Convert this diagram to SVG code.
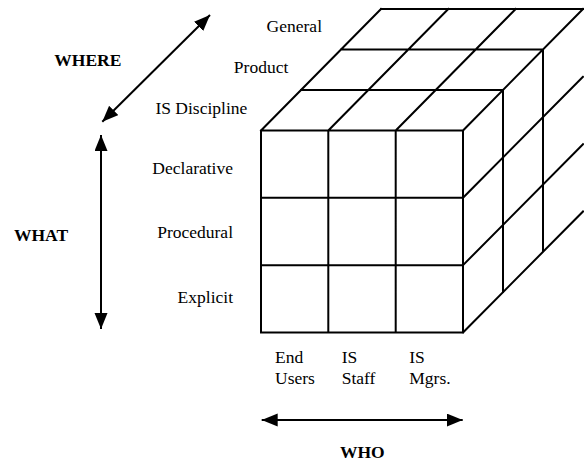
<svg xmlns="http://www.w3.org/2000/svg" width="584" height="462" viewBox="0 0 584 462">
<style>
.g{stroke:#000;stroke-width:2;fill:none;stroke-linecap:square}
.t{font-family:"Liberation Serif","Times New Roman",serif;font-size:17.5px;fill:#000}
.b{font-family:"Liberation Serif","Times New Roman",serif;font-size:17.5px;font-weight:bold;fill:#000}
.a{stroke:#000;stroke-width:2;fill:none}
</style>
<defs>
<marker id="ah" markerUnits="userSpaceOnUse" markerWidth="17" markerHeight="14" refX="16" refY="6.5" orient="auto-start-reverse" viewBox="0 0 17 14">
<path d="M0,0 L16,6.5 L0,13 z" fill="#000"/>
</marker>
</defs>
<rect width="584" height="462" fill="#fff"/>
<g id="cube">
<path class="g" d="M261,130.5H463 M301,90H503 M341,49.5H543 M381,9H583
M261,130.5L381,9 M328.3,130.5L448.3,9 M395.7,130.5L515.7,9 M463,130.5L583,9
M261,130.5V332.5 M328.3,130.5V332.5 M395.7,130.5V332.5 M463,130.5V332.5
M261,197.8H463 M261,265.2H463 M261,332.5H463
M503,90V292 M543,49.5V251.5
M463,197.8L583,76.8 M463,265.2L583,144.2 M463,332.5L583,211.5"/>
</g>
<g id="where-labels">
<text class="t" x="322" y="32.3" text-anchor="end">General</text>
<text class="t" x="288.3" y="72.7" text-anchor="end">Product</text>
<text class="t" x="247.3" y="114" text-anchor="end">IS Discipline</text>
</g>
<g id="what-labels">
<text class="t" x="233" y="174" text-anchor="end">Declarative</text>
<text class="t" x="233" y="238.3" text-anchor="end">Procedural</text>
<text class="t" x="233" y="303.3" text-anchor="end">Explicit</text>
</g>
<g id="who-labels">
<text class="t" x="275" y="363.3">End</text>
<text class="t" x="275" y="384">Users</text>
<text class="t" x="341.7" y="363.3">IS</text>
<text class="t" x="341.7" y="384">Staff</text>
<text class="t" x="409.3" y="363.3">IS</text>
<text class="t" x="409.3" y="384">Mgrs.</text>
</g>
<g id="axis-titles">
<text class="b" x="54.3" y="65.7">WHERE</text>
<text class="b" x="14" y="240.7">WHAT</text>
<text class="b" x="340" y="458.3">WHO</text>
</g>
<g id="connectors">
<line class="a" x1="102.3" y1="121.7" x2="210" y2="15" marker-start="url(#ah)" marker-end="url(#ah)"/>
<line class="a" x1="101" y1="135" x2="101" y2="329" marker-start="url(#ah)" marker-end="url(#ah)"/>
<line class="a" x1="261.7" y1="420" x2="462.7" y2="420" marker-start="url(#ah)" marker-end="url(#ah)"/>
</g>
</svg>
